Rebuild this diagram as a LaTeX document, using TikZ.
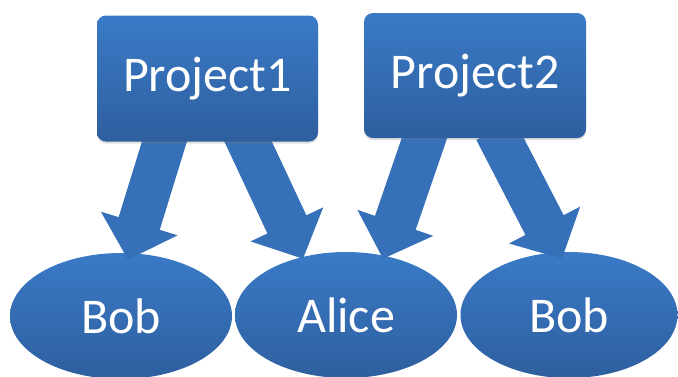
\documentclass[tikz,border=0pt]{standalone}
\usepackage{fontspec}
\setmainfont{Carlito}
\usetikzlibrary{shapes.geometric,arrows.meta,calc,shadows}
\definecolor{topblue}{HTML}{3A7AC6}
\definecolor{botblue}{HTML}{2E5F9F}
\definecolor{arrowblue}{HTML}{3570B8}
\tikzset{
  x=1pt, y=-1pt,
  boxnode/.style={rectangle, rounded corners=9pt, top color=topblue, bottom color=botblue,
    draw=none, text=white, font=\fontsize{50}{60}\selectfont, inner sep=0pt,
    minimum width=221pt, minimum height=126pt,
    drop shadow={shadow xshift=0pt, shadow yshift=-2pt, opacity=0.25}},
  ellnode/.style={ellipse, top color=topblue, bottom color=botblue,
    draw=none, text=white, font=\fontsize{50}{60}\selectfont, inner sep=0pt,
    minimum width=222pt, minimum height=126pt},
  blockarrow/.style={draw=arrowblue, line width=43pt,
    -{Triangle[width=78pt, length=38pt]}}
}
\begin{document}
\begin{tikzpicture}
\useasboundingbox (0,0) rectangle (678,376);
% target ellipses
\node[ellnode] (bob1) at (121,316) {Bob};
\node[ellnode] (alice) at (346,315) {Alice};
\node[ellnode, minimum width=217pt] (bob2) at (569,315) {Bob};
% project boxes (positions)
\path (207.5,78.5) coordinate (p1c) (475,75.5) coordinate (p2c);
% connector end points
\coordinate (s1) at ($(p1c)+(-39.5,51.5)$);
\coordinate (s2) at ($(p1c)+(35.2,51.5)$);
\coordinate (s3) at ($(p2c)+(-47.8,54.5)$);
\coordinate (s4) at ($(p2c)+(20.4,54.5)$);
\coordinate (t1) at ($(bob1.north)+(7,7)$);
\coordinate (t2) at ($(alice.north)+(-43,7)$);
\coordinate (t3) at ($(alice.north)+(37,7)$);
\coordinate (t4) at ($(bob2.north)+(-7,7)$);
\draw[blockarrow] (s1) -- (t1);
\draw[blockarrow] (s2) -- (t2);
\draw[blockarrow] (s3) -- (t3);
\draw[blockarrow] (s4) -- (t4);
\node[boxnode] (p1) at (p1c) {Project1};
\node[boxnode, minimum width=222pt, minimum height=125pt] (p2) at (p2c) {Project2};
\end{tikzpicture}
\end{document}
